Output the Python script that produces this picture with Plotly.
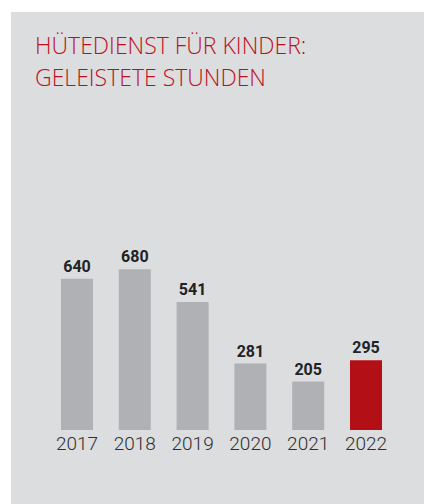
import plotly.graph_objects as go

# data
jahre = ["2017", "2018", "2019", "2020", "2021", "2022"]
stunden = [640, 680, 541, 281, 205, 295]
farben = ["#b0b1b4"] * 5 + ["#b20f16"]

titel_zeile1 = "HÜTEDIENST FÜR KINDER:"
titel_zeile2 = "GELEISTETE STUNDEN"

W, H = 424, 504

fig = go.Figure()
fig.add_trace(go.Bar(
    x=jahre,
    y=stunden,
    marker=dict(color=farben, line=dict(width=0)),
    texttemplate="%{y}",
    textposition="outside",
    textfont=dict(family="Roboto", size=16, color="#222222", weight=700),
    cliponaxis=False,
    hoverinfo="skip",
))

# grey panel behind the chart
fig.add_shape(type="rect", xref="paper", yref="paper", layer="below",
              x0=11 / W, x1=1, y0=0, y1=1 - 12 / H,
              fillcolor="#dcdddf", line=dict(width=0))

for i, zeile in enumerate([titel_zeile1, titel_zeile2]):
    fig.add_annotation(text=zeile, xref="paper", yref="paper",
                       x=33 / W, y=1 - (45 + 32 * i) / H,
                       xanchor="left", yanchor="middle", showarrow=False,
                       font=dict(family="Open Sans", size=23, color="#bb0f1c", weight=300))

fig.update_layout(
    width=W, height=H,
    margin=dict(l=0, r=0, t=0, b=0),
    paper_bgcolor="white",
    plot_bgcolor="rgba(0,0,0,0)",
    bargap=0.446,
    showlegend=False,
    xaxis=dict(domain=[48.1 / W, 394.9 / W], showgrid=False, zeroline=False,
               showline=False, ticks="", fixedrange=True,
               tickfont=dict(family="Roboto", size=19, color="#2e2e2e", weight=300)),
    yaxis=dict(domain=[(H - 430) / H, (H - 240.8) / H], range=[0, 800],
               visible=False, fixedrange=True),
)

# page has a default 8px body margin; drop it so the figure fills the window,
# and let the page background continue the grey panel to the right edge
fig.write_html(
    "out.html",
    config={"displayModeBar": False},
    post_script="document.body.style.margin='0';"
                "document.body.style.overflow='hidden';"
                "document.documentElement.style.overflow='hidden';"
                "document.body.style.background='#dcdddf';",
)
